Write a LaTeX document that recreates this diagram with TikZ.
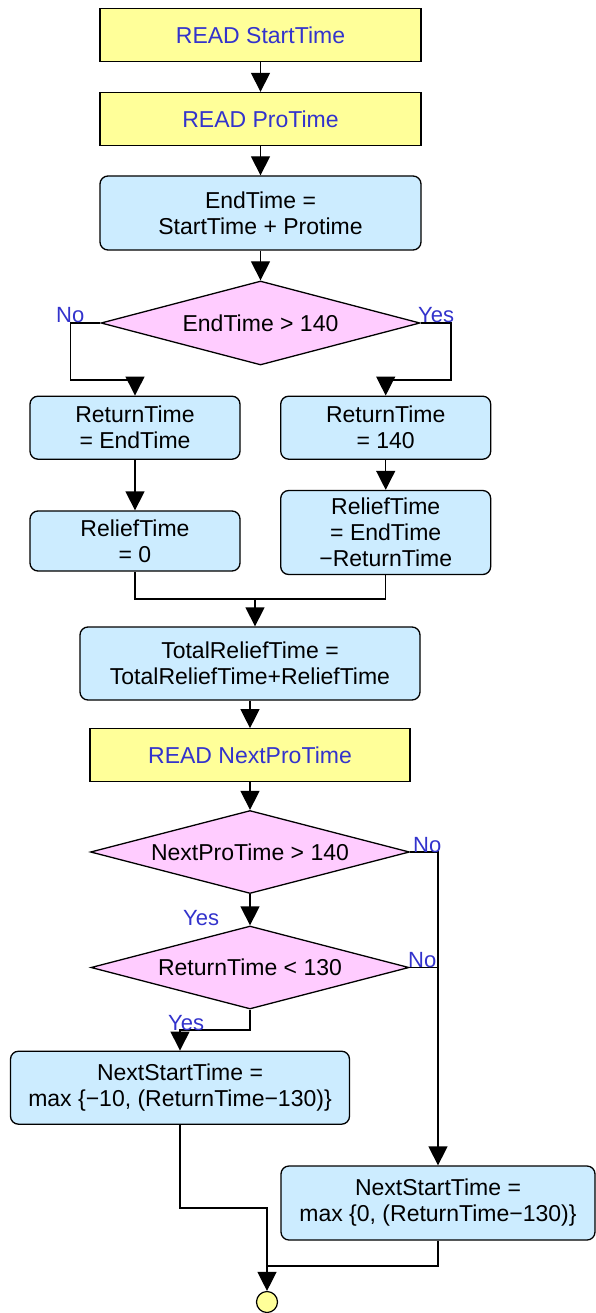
\documentclass[tikz,border=0pt]{standalone}
\usepackage{fontspec}
\setmainfont{Liberation Sans}
\usetikzlibrary{shapes.geometric,arrows.meta}
\definecolor{readfill}{RGB}{255,255,153}
\definecolor{procfill}{RGB}{204,236,255}
\definecolor{decfill}{RGB}{255,204,255}
\definecolor{labelblue}{RGB}{51,51,204}

\begin{document}
\begin{tikzpicture}[x=1pt,y=-1pt,
  every node/.style={font=\fontsize{23}{26}\selectfont, inner sep=0pt},
  readbox/.style={draw, line width=1.3pt, fill=readfill, text=labelblue, minimum height=53pt},
  procbox/.style={draw, line width=1.3pt, rounded corners=8pt, fill=procfill, align=center},
  decision/.style={diamond, draw, line width=1.3pt, fill=decfill, aspect=3.8},
  flow/.style={line width=1.3pt, -{Triangle[length=19pt,width=19pt]}},
  link/.style={line width=1.3pt},
  branch/.style={text=labelblue, font=\fontsize{22}{25}\selectfont, anchor=base west}
]
\useasboundingbox (0,0) rectangle (595,1313);

% boxes
\node[readbox, minimum width=321pt] (rs) at (260.5,35) {READ StartTime};
\node[readbox, minimum width=321pt] (rp) at (260.5,119) {READ ProTime};
\node[procbox, minimum width=321pt, minimum height=74pt] (et) at (260.5,213) {EndTime =\\StartTime + Protime};
\node[decision, minimum width=319pt, minimum height=84pt] (d1) at (260.5,323) {EndTime > 140};
\node[procbox, minimum width=210pt, minimum height=63pt] (retL) at (135,427.7) {ReturnTime\\= EndTime};
\node[procbox, minimum width=210pt, minimum height=63pt] (retR) at (385.7,427.7) {ReturnTime\\= 140};
\node[procbox, minimum width=210pt, minimum height=60pt] (relL) at (135,541) {ReliefTime\\= 0};
\node[procbox, minimum width=210pt, minimum height=84pt] (relR) at (385.7,532.5) {ReliefTime\\= EndTime\\−ReturnTime};
\node[procbox, minimum width=340pt, minimum height=73pt] (tot) at (250,663.5) {TotalReliefTime =\\TotalReliefTime+ReliefTime};
\node[readbox, minimum width=320pt] (rn) at (250,755.3) {READ NextProTime};
\node[decision, minimum width=319pt, minimum height=83pt] (d2) at (250,852) {NextProTime > 140};
\node[decision, minimum width=318pt, minimum height=83pt] (d3) at (250,967.5) {ReturnTime < 130};
\node[procbox, minimum width=339pt, minimum height=73pt] (nsL) at (180,1087.7) {NextStartTime =\\max \{−10, (ReturnTime−130)\}};
\node[procbox, minimum width=314pt, minimum height=74pt] (nsR) at (438,1203) {NextStartTime =\\max \{0, (ReturnTime−130)\}};
\node[circle, draw, line width=1.2pt, fill=readfill, minimum size=21pt] (end) at (267,1302) {};

% bend points
\coordinate (bL) at (70.5,380);
\coordinate (bR) at (451,380);
\coordinate (j1) at (255,599);
\coordinate (bY) at (180,1030);
\coordinate (j2) at (267,1208);
\coordinate (j3) at (267,1266);

% connectors
\draw[flow] (rs) -- (rp);
\draw[flow] (rp) -- (et);
\draw[flow] (et) -- (d1);
\draw[flow] (d1.west) -| (bL) -| (retL.north);
\draw[flow] (d1.east) -| (bR) -| (retR.north);
\draw[flow] (retL) -- (relL);
\draw[flow] (retR) -- (relR);
\draw[link] (relL.south) |- (j1);
\draw[link] (relR.south) |- (j1);
\draw[flow] (j1) -- (j1 |- tot.north);
\draw[flow] (tot) -- (rn);
\draw[flow] (rn) -- (d2);
\draw[flow] (d2) -- (d3);
\draw[flow] (d2.east) -| (nsR.north);
\draw[link] (d3.east) -- (d3.east -| nsR.north);
\draw[flow] (d3.south) |- (bY) -- (nsL.north);
\draw[link] (nsL.south) |- (j2) -- (j3);
\draw[link] (nsR.south) |- (j3);
\draw[flow] (j3) -- (end);

% branch labels
\node[branch] (no1) at (56,323) {No};
\node[branch] (yes1) at (418,323) {Yes};
\node[branch] (no2) at (413,852) {No};
\node[branch] (yes2) at (183,925) {Yes};
\node[branch] (no3) at (408,967) {No};
\node[branch] (yes3) at (168,1030) {Yes};
\end{tikzpicture}
\end{document}
